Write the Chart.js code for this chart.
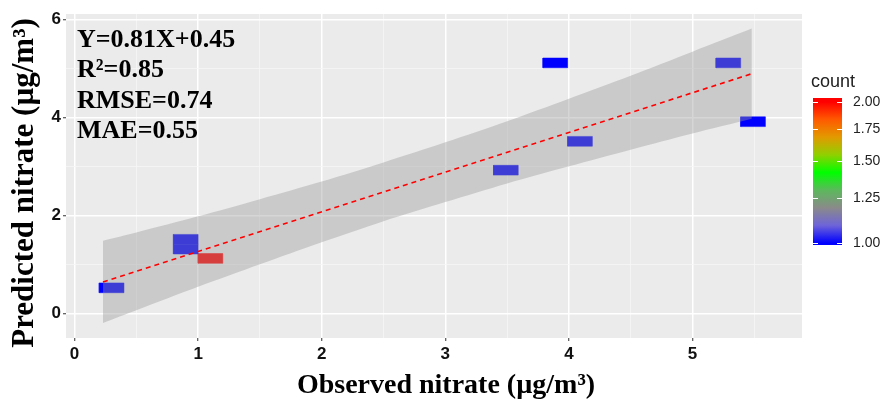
<!DOCTYPE html>
<html><head><meta charset="utf-8">
<script src="https://cdn.jsdelivr.net/npm/chart.js@4.4.0/dist/chart.umd.min.js"></script>
<style>html,body{margin:0;padding:0;background:#fff;}#wrap{width:885px;height:404px;}</style>
</head><body><div id="wrap"><canvas id="c" width="885" height="404"></canvas></div>
<script>
// ---- data ----
const binX = [0.30, 0.90, 0.90, 1.10, 3.49, 3.89, 4.09, 5.29, 5.49];
const binY = [0.52, 1.31, 1.51, 1.12, 2.92, 5.11, 3.51, 5.11, 3.91];
const binCount = [1, 1, 1, 2, 1, 1, 1, 1, 1];
const binWidth = 0.2, binHeight = 0.2;

const ribbonX  = [0.23, 0.5, 1, 1.5, 2, 2.5, 3, 3.5, 4, 4.5, 5, 5.48];
const ribbonLo = [-0.20, 0.06, 0.54, 1.00, 1.45, 1.88, 2.27, 2.65, 3.00, 3.34, 3.67, 3.97];
const ribbonHi = [1.48, 1.65, 1.98, 2.33, 2.69, 3.08, 3.49, 3.92, 4.38, 4.85, 5.34, 5.81];

const fitX = [0.23, 5.48];
const fitY = [0.64, 4.89];

const statsLines = ['Y=0.81X+0.45', 'R\u00B2=0.85', 'RMSE=0.74', 'MAE=0.55'];
const legendTicks = [1.00, 1.25, 1.50, 1.75, 2.00];
const legendTitle = 'count';
const xTitle = 'Observed nitrate (\u00B5g/m\u00B3)';
const yTitle = 'Predicted nitrate (\u00B5g/m\u00B3)';

// colour ramp for count (position along log scale 0..1)
const rampPos = [0, 0.125, 0.25, 0.375, 0.5, 0.625, 0.75, 0.875, 1];
const rampCol = ['#0000FF', '#6E64D8', '#8A8A8A', '#5CB85C', '#00FF00', '#90D000', '#E29A00', '#FF5A00', '#FF0000'];

function hexToRgb(h){return [parseInt(h.slice(1,3),16),parseInt(h.slice(3,5),16),parseInt(h.slice(5,7),16)];}
function rampColor(t){
  for (let i=0;i<rampPos.length-1;i++){
    if (t<=rampPos[i+1]){
      const f=(t-rampPos[i])/(rampPos[i+1]-rampPos[i]);
      const a=hexToRgb(rampCol[i]), b=hexToRgb(rampCol[i+1]);
      return 'rgb('+a.map((v,k)=>Math.round(v+(b[k]-v)*f)).join(',')+')';
    }
  }
  return rampCol[rampCol.length-1];
}
const cMin = legendTicks[0], cMax = legendTicks[legendTicks.length-1];
function countPos(c){return Math.log(c/cMin)/Math.log(cMax/cMin);}

const datasets = [];
// ribbon (upper fills to lower)
datasets.push({
  data: ribbonX.map((x,i)=>({x, y: ribbonHi[i]})),
  fill: '+1', backgroundColor: 'rgba(153,153,153,0.4)',
  borderColor: 'rgba(0,0,0,0)', borderWidth: 0, pointRadius: 0, order: 2, tension: 0.3
});
datasets.push({
  data: ribbonX.map((x,i)=>({x, y: ribbonLo[i]})),
  fill: false, borderColor: 'rgba(0,0,0,0)', borderWidth: 0, pointRadius: 0, order: 2, tension: 0.3
});
// fitted line
datasets.push({
  data: fitX.map((x,i)=>({x, y: fitY[i]})),
  fill: false, borderColor: '#FF0000', borderWidth: 1.6, borderDash: [5, 4],
  pointRadius: 0, order: 1
});
// bin2d tiles
binX.forEach((x,i)=>{
  const y = binY[i], w = binWidth/2, h = binHeight/2;
  const col = rampColor(countPos(binCount[i]));
  datasets.push({
    data: [{x:x-w,y:y-h},{x:x+w,y:y-h},{x:x+w,y:y+h},{x:x-w,y:y+h},{x:x-w,y:y-h}],
    fill: 'shape', backgroundColor: col,
    borderColor: col, borderWidth: 0.5, pointRadius: 0, order: 3, tension: 0
  });
});

const bgPlugin = {
  id: 'bg',
  beforeDraw(chart){
    const {ctx, chartArea:a} = chart;
    ctx.save();
    ctx.fillStyle = '#FFFFFF'; ctx.fillRect(0,0,chart.width,chart.height);
    ctx.fillStyle = '#EBEBEB'; ctx.fillRect(a.left,a.top,a.right-a.left,a.bottom-a.top);
    ctx.restore();
  }
};

const textPlugin = {
  id: 'texts',
  afterDraw(chart){
    const ctx = chart.ctx;
    ctx.save();
    ctx.fillStyle = '#000';
    ctx.textBaseline = 'alphabetic';
    // statistics annotation
    ctx.font = 'bold 26px "Liberation Serif", "Times New Roman", serif';
    ctx.textAlign = 'left';
    const base = [47, 77, 108, 138];
    statsLines.forEach((t,i)=>ctx.fillText(t, 77, base[i]));
    // axis titles
    ctx.textAlign = 'center';
    ctx.font = 'bold 28px "Liberation Serif", "Times New Roman", serif';
    ctx.fillText(xTitle, 446, 393);
    ctx.save();
    ctx.translate(33, 183);
    ctx.rotate(-Math.PI/2);
    ctx.font = 'bold 31px "Liberation Serif", "Times New Roman", serif';
    ctx.fillText(yTitle, 0, 0);
    ctx.restore();
    ctx.restore();
  }
};

const colorbarPlugin = {
  id: 'colorbar',
  afterDraw(chart){
    const ctx = chart.ctx;
    const x0 = 813, x1 = 842, yTop = 98, yBot = 245;
    const p0 = 243, p1 = 102; // positions of min and max ticks
    ctx.save();
    ctx.fillStyle = '#222';
    ctx.font = '18px "Liberation Sans", Arial, sans-serif';
    ctx.textBaseline = 'middle';
    ctx.fillText(legendTitle, 811, 82);
    const g = ctx.createLinearGradient(0, p0, 0, p1);
    rampPos.forEach((p,i)=>g.addColorStop(p, rampCol[i]));
    ctx.fillStyle = g;
    ctx.fillRect(x0, yTop, x1-x0, yBot-yTop);
    ctx.strokeStyle = '#FFFFFF'; ctx.lineWidth = 1;
    ctx.font = '14px "Liberation Sans", Arial, sans-serif';
    ctx.fillStyle = '#222';
    legendTicks.forEach(v=>{
      const y = Math.round(p0 + (p1-p0)*countPos(v)) + 0.5;
      ctx.beginPath();
      ctx.moveTo(x0, y); ctx.lineTo(x0+5, y);
      ctx.moveTo(x1-5, y); ctx.lineTo(x1, y);
      ctx.stroke();
      ctx.fillText(v.toFixed(2), 853, y);
    });
    ctx.restore();
  }
};

const tickFont = {family: '"Liberation Sans", Arial, sans-serif', size: 17, weight: 'bold'};
const isInt = v => Math.abs(v - Math.round(v)) < 1e-9;
const isEven = v => isInt(v) && Math.round(v) % 2 === 0;

new Chart(document.getElementById('c'), {
  type: 'line',
  data: {datasets},
  plugins: [bgPlugin, textPlugin, colorbarPlugin],
  options: {
    responsive: false, animation: false, devicePixelRatio: 1,
    layout: {padding: {top: 14, right: 83, left: 0, bottom: 0}},
    plugins: {legend: {display: false}, tooltip: {enabled: false}},
    elements: {line: {borderJoinStyle: 'miter'}},
    scales: {
      x: {
        type: 'linear', min: -0.069, max: 5.886,
        afterFit: s => { s.height = 66; },
        border: {display: false},
        grid: {
          color: c => isInt(c.tick.value) ? '#FFFFFF' : '#F6F6F6',
          lineWidth: c => isInt(c.tick.value) ? 1.5 : 0.8,
          tickColor: c => isInt(c.tick.value) ? '#333333' : 'rgba(0,0,0,0)',
          tickLength: 3, tickWidth: 1
        },
        ticks: {
          stepSize: 0.5, includeBounds: false, autoSkip: false, maxRotation: 0,
          padding: 3, color: '#111', font: tickFont,
          callback: v => isInt(v) ? String(Math.round(v)) : ''
        },
        title: {display: false}
      },
      y: {
        type: 'linear', min: -0.504, max: 6.108,
        afterFit: s => { s.width = 66; },
        border: {display: false},
        grid: {
          color: c => isEven(c.tick.value) ? '#FFFFFF' : '#F6F6F6',
          lineWidth: c => isEven(c.tick.value) ? 1.5 : 0.8,
          tickColor: c => isEven(c.tick.value) ? '#333333' : 'rgba(0,0,0,0)',
          tickLength: 3, tickWidth: 1
        },
        ticks: {
          stepSize: 1, includeBounds: false, autoSkip: false,
          padding: 2, color: '#111', font: tickFont,
          callback: v => isEven(v) ? String(Math.round(v)) : ''
        },
        title: {display: false}
      }
    }
  }
});
</script>
</body></html>
